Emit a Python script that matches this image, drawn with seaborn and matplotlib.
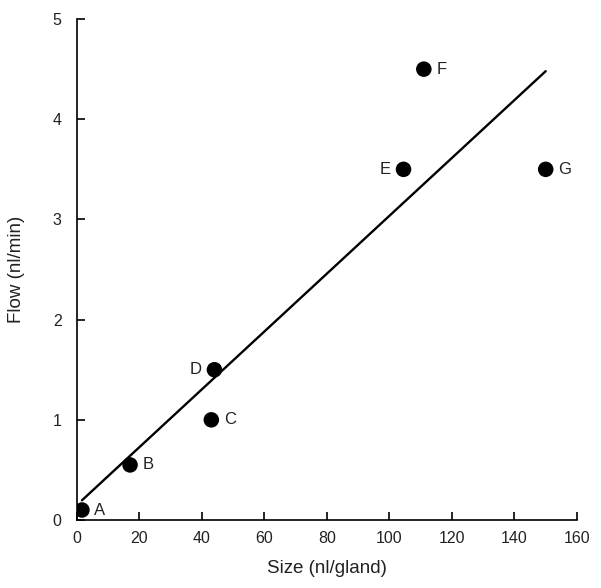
import matplotlib
matplotlib.use("Agg")
import matplotlib.pyplot as plt
import seaborn as sns
import numpy as np
import pandas as pd

labels = ["A", "B", "C", "D", "E", "F", "G"]
size_nl = [1.6, 17, 43, 44, 104.5, 111, 150]
flow_nl = [0.1, 0.55, 1.0, 1.5, 3.5, 4.5, 3.5]
label_side = ["right", "right", "right", "left", "left", "right", "right"]
x_ticks = [0, 20, 40, 60, 80, 100, 120, 140, 160]
y_ticks = [0, 1, 2, 3, 4, 5]

df = pd.DataFrame({"size": size_nl, "flow": flow_nl, "label": labels, "side": label_side})

sns.set_style("ticks")
plt.rcParams["font.family"] = ["Liberation Sans", "DejaVu Sans"]

fig = plt.figure(figsize=(6.01, 5.88), dpi=100)
ax = fig.add_axes([0.128, 0.1156, 0.832, 0.852])

sns.regplot(data=df, x="size", y="flow", ax=ax, ci=None, truncate=True,
            scatter_kws=dict(s=125, color="black", marker="o", edgecolors="none",
                             alpha=1, zorder=3),
            line_kws=dict(color="black", lw=1.7, zorder=2))

for _, r in df.iterrows():
    if r["side"] == "right":
        ax.annotate(r["label"], (r["size"], r["flow"]), xytext=(9, 0), textcoords="offset points",
                    ha="left", va="center", fontsize=12, color="#222222")
    else:
        ax.annotate(r["label"], (r["size"], r["flow"]), xytext=(-9, 0), textcoords="offset points",
                    ha="right", va="center", fontsize=12, color="#222222")

ax.set_xlim(0, 160)
ax.set_ylim(0, 5)
ax.set_xticks(x_ticks)
ax.set_yticks(y_ticks)
ax.set_xlabel("Size (nl/gland)", fontsize=13.5, color="#222222", labelpad=10)
ax.set_ylabel("Flow (nl/min)", fontsize=13.5, color="#222222", labelpad=20)
ax.tick_params(direction="in", length=6, width=1.2, labelsize=11.5, colors="black",
               labelcolor="#222222")
ax.tick_params(axis="x", pad=8)
ax.tick_params(axis="y", pad=11)
sns.despine(ax=ax)
for s in ["left", "bottom"]:
    ax.spines[s].set_linewidth(1.2)
    ax.spines[s].set_color("black")

fig.savefig("out.png", dpi=100)
